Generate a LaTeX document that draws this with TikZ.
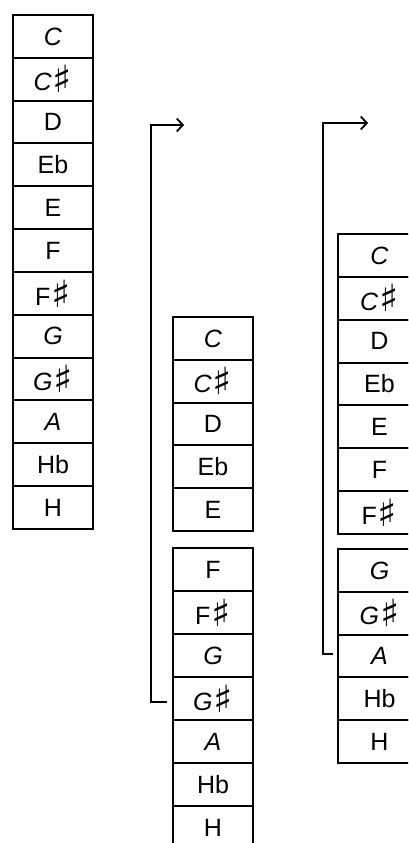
\documentclass[tikz,border=0pt]{standalone}
\usepackage{fontspec}
\setmainfont{Liberation Sans}
\newfontfamily\symfont{DejaVu Sans}
\usetikzlibrary{arrows.meta}
\newcommand{\shp}{\hspace{1pt}\raisebox{-0.15ex}{\scalebox{1.6}[1.5]{\symfont ♯}}}
\tikzset{
  cell/.style={draw, line width=2pt, minimum width=80pt, minimum height=42.8pt,
    inner sep=0pt, anchor=north west, font=\fontsize{25}{27}\selectfont},
  wide/.style={minimum width=83pt},
  bracket/.style={draw, line width=2pt, -{Straight Barb[length=6pt,width=13pt,line width=1.8pt]}}
}
\begin{document}
\begin{tikzpicture}[x=1pt,y=-1pt]
\useasboundingbox (0,0) rectangle (408,843);
\clip (0,0) rectangle (408,843);
% column 1
\foreach \lab [count=\i] in {\textit{C},\textit{C}\shp,D,Eb,E,F,F\shp,\textit{G},\textit{G}\shp,\textit{A},Hb,H}
  \node[cell] (a\i) at (12,{14+(\i-1)*42.83}) {\lab};
% column 2, upper block
\foreach \lab [count=\i] in {\textit{C},\textit{C}\shp,D,Eb,E}
  \node[cell] (b\i) at (172,{316+(\i-1)*42.8}) {\lab};
% column 2, lower block
\foreach \lab [count=\i] in {F,F\shp,\textit{G},\textit{G}\shp,\textit{A},Hb,H}
  \node[cell, minimum height=43pt] (c\i) at (172,{547+(\i-1)*43}) {\lab};
% column 3, upper block
\foreach \lab [count=\i] in {\textit{C},\textit{C}\shp,D,Eb,E,F,F\shp}
  \node[cell, wide, minimum height=42.86pt] (d\i) at (337,{233+(\i-1)*42.86}) {\lab};
% column 3, lower block
\foreach \lab [count=\i] in {\textit{G},\textit{G}\shp,\textit{A},Hb,H}
  \node[cell, wide] (e\i) at (337,{548+(\i-1)*42.8}) {\lab};
% brackets
\coordinate (t2) at (184,125);
\coordinate (t3) at (368,123);
\draw[bracket] ([xshift=-5pt,yshift=-3pt]c4.west) -- ++(-16,0) |- (t2);
\draw[bracket] ([xshift=-4pt,yshift=2pt]e3.west) -- ++(-10,0) |- (t3);
\end{tikzpicture}
\end{document}
